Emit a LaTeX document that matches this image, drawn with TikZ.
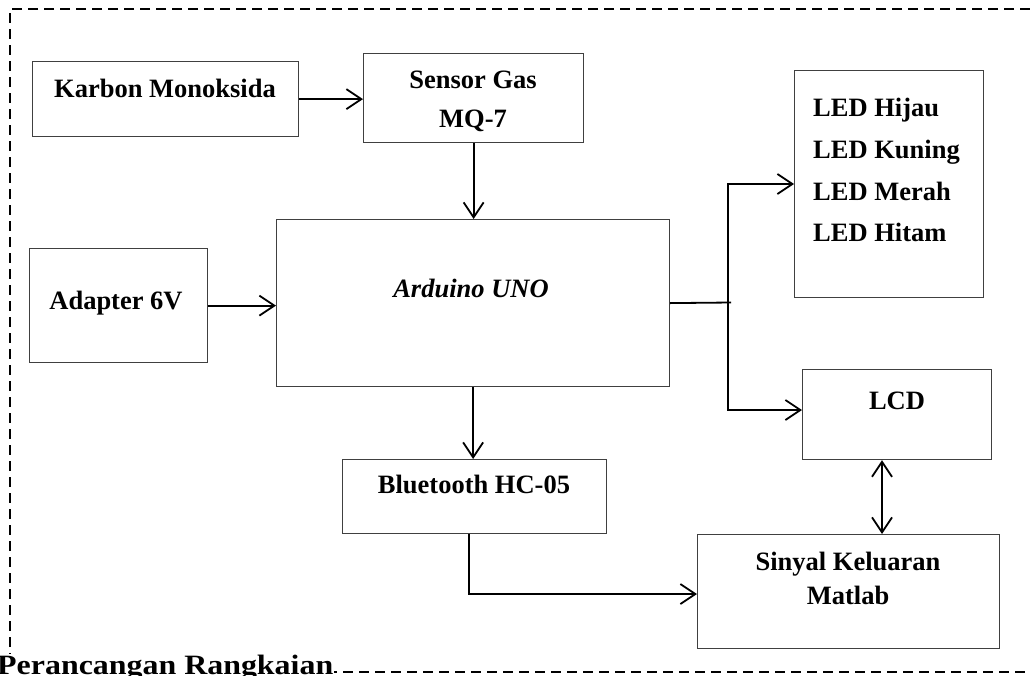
\documentclass[tikz,border=0pt]{standalone}
\usepackage{fontspec}
\setmainfont{Liberation Serif}
\usetikzlibrary{arrows.meta,calc}
\begin{document}
\begin{tikzpicture}[x=1pt,y=-1pt,
  box/.style={draw=black!75, line width=1.2pt, anchor=north west, inner sep=0pt},
  lbl/.style={anchor=base, font=\fontsize{26.5}{32}\selectfont\bfseries, inner sep=0pt},
  ln/.style={line width=1.8pt},
  conn/.style={ln, -{Straight Barb[length=15pt,width=20pt,line width=1.8pt]}},
  dconn/.style={ln, {Straight Barb[length=15pt,width=20pt,line width=1.8pt]}-{Straight Barb[length=15pt,width=20pt,line width=1.8pt]}},
  border/.style={line width=2.5pt, dash pattern=on 10pt off 6pt}
]
\clip (0,0) rectangle (1030,675);
\fill[white] (0,0) rectangle (1030,675);

% boxes
\node[box, minimum width=266pt, minimum height=75pt] (ko) at (32,61) {};
\node[box, minimum width=220pt, minimum height=89pt] (sg) at (363,53) {};
\node[box, minimum width=393pt, minimum height=167pt] (ard) at (276,219) {};
\node[box, minimum width=178pt, minimum height=114pt] (ad) at (29,248) {};
\node[box, minimum width=189pt, minimum height=227pt] (led) at (794,70) {};
\node[box, minimum width=189pt, minimum height=90pt] (lcd) at (802,369) {};
\node[box, minimum width=264pt, minimum height=74pt] (bt) at (342,459) {};
\node[box, minimum width=302pt, minimum height=114pt] (sig) at (697,534) {};

% texts
\node[lbl] (kot) at (165,97) {Karbon Monoksida};
\node[lbl] (sgt1) at (473,88) {Sensor Gas};
\node[lbl] (sgt2) at (473,127) {MQ-7};
\node[lbl, font=\fontsize{26.5}{32}\selectfont\bfseries\itshape] (ardt) at (471,297) {Arduino UNO};
\node[lbl] (adt) at (116,309) {Adapter 6V};
\node[lbl, anchor=base west] (l1) at (813,116) {LED Hijau};
\node[lbl, anchor=base west] (l2) at (813,158) {LED Kuning};
\node[lbl, anchor=base west] (l3) at (813,200) {LED Merah};
\node[lbl, anchor=base west] (l4) at (813,241) {LED Hitam};
\node[lbl] (lcdt) at (897,409) {LCD};
\node[lbl] (btt) at (474,493) {Bluetooth HC-05};
\node[lbl] (sigt1) at (848,570) {Sinyal Keluaran};
\node[lbl] (sigt2) at (848,604) {Matlab};

% connectors
\draw[conn] (ko.east) -- (ko.east -| sg.west);
\draw[conn] (sg.south) -- (sg.south |- ard.north);
\draw[conn] (ad.east) -- (ad.east -| ard.west);
\coordinate (j) at (728,302.5);
\coordinate (jt) at (728,184);
\coordinate (jb) at (728,410);
\coordinate (je) at (731,302.5);
\draw[ln] (ard.east) -- (je);
\draw[conn] (j) -- (jt) -- (jt -| led.west);
\draw[conn] (j) -- (jb) -- (jb -| lcd.west);
\draw[conn] (ard.south) -- (ard.south |- bt.north);
\coordinate (lx) at (882,0);
\draw[dconn] (lcd.south -| lx) -- (sig.north -| lx);
\coordinate (bx) at (469,594);
\draw[conn] (bt.south -| bx) |- (sig.west |- bx);

% dashed frame
\draw[border] (1030,9) -- (10,9) -- (10,672) -- (1030,672);
\node[lbl, anchor=base west, fill=white, inner sep=1pt, font=\fontsize{28}{32}\selectfont\bfseries] (title) at (-4,674) {\scalebox{1.14}[1]{Perancangan Rangkaian}};
\end{tikzpicture}
\end{document}
